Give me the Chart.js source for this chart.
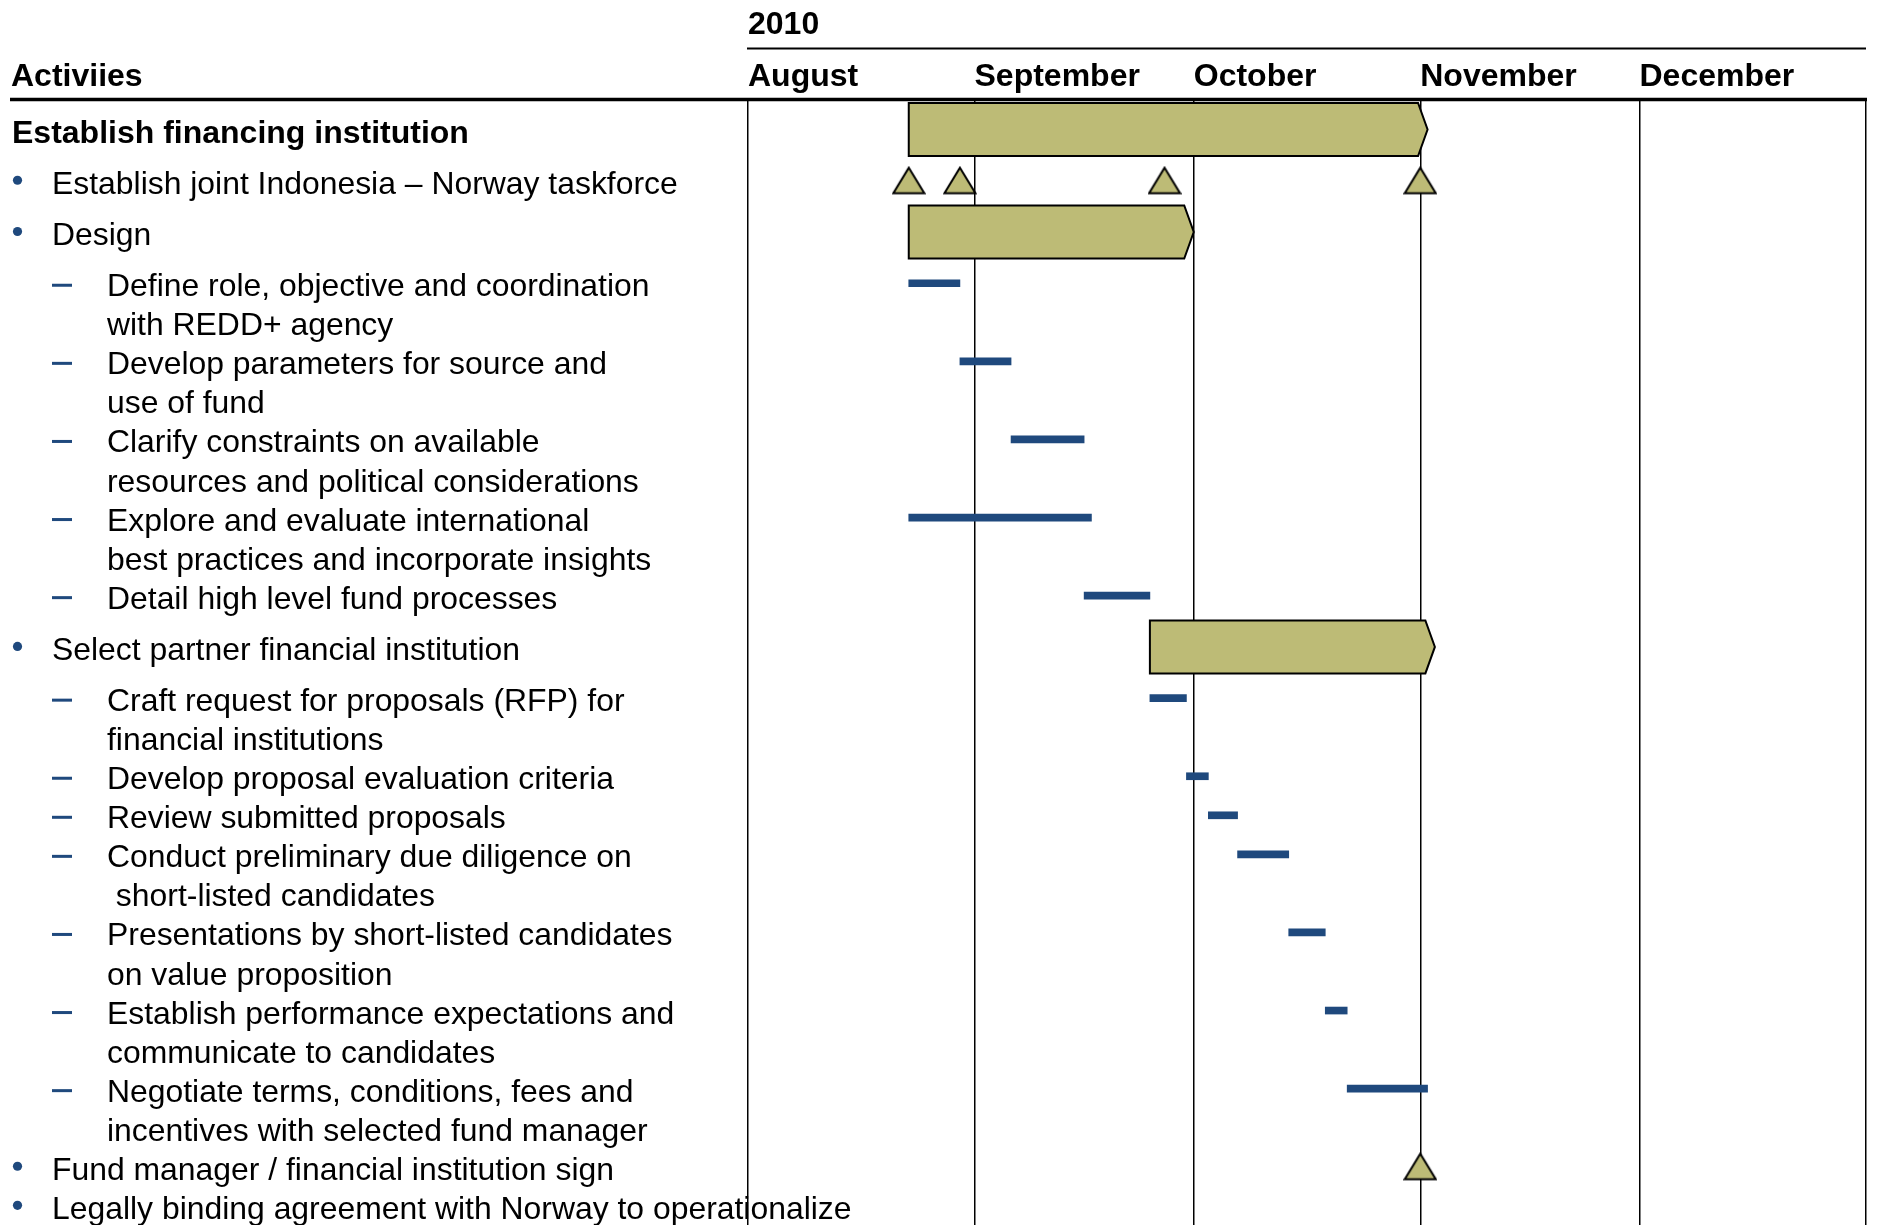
<!DOCTYPE html>
<html>
<head>
<meta charset="utf-8">
<title>Establish financing institution - 2010 plan</title>
<script src="https://cdn.jsdelivr.net/npm/chart.js@4.4.0/dist/chart.umd.min.js"></script>
<style>
  html, body { margin:0; padding:0; background:#fff; overflow:hidden; }
  #gantt { display:block; }
</style>
</head>
<body>
<canvas id="gantt" width="1877" height="1225"></canvas>
<script>
// Data (days counted from 1 August 2010)
const yearLabel = '2010';
const monthNames = ['August', 'September', 'October', 'November', 'December'];
const monthStartDay = [0, 31, 61, 92, 122, 153];

const activityLabels = [
  ['Establish financing institution'],
  ['Establish joint Indonesia \u2013 Norway taskforce'],
  ['Design'],
  ['Define role, objective and coordination', 'with REDD+ agency'],
  ['Develop parameters for source and', 'use of fund'],
  ['Clarify constraints on available', 'resources and political considerations'],
  ['Explore and evaluate international', 'best practices and incorporate insights'],
  ['Detail high level fund processes'],
  ['Select partner financial institution'],
  ['Craft request for proposals (RFP) for', 'financial institutions'],
  ['Develop proposal evaluation criteria'],
  ['Review submitted proposals'],
  ['Conduct preliminary due diligence on', ' short-listed candidates'],
  ['Presentations by short-listed candidates', 'on value proposition'],
  ['Establish performance expectations and', 'communicate to candidates'],
  ['Negotiate terms, conditions, fees and', 'incentives with selected fund manager'],
  ['Fund manager / financial institution sign'],
  ['Legally binding agreement with Norway to operationalize']
];
// 0 = heading, 1 = bullet, 2 = dash
const activityLevels = [0, 1, 1, 2, 2, 2, 2, 2, 1, 2, 2, 2, 2, 2, 2, 2, 1, 1];

// phase bars (olive chevrons)
const phaseRows  = [0, 2, 8];
const phaseStart = [22, 22, 55];
const phaseEnd   = [93, 61, 94];

// task bars (thin blue)
const taskRows  = [3, 4, 5, 6, 7, 9, 10, 11, 12, 13, 14, 15];
const taskStart = [22, 29, 36, 22, 46, 55, 60, 63, 67, 74, 79, 82];
const taskEnd   = [29, 36, 46, 47, 55, 60, 63, 67, 74, 79, 82, 93];

// milestones (triangles)
const milestoneRows = [1, 1, 1, 1, 16];
const milestoneDay  = [22, 29, 57, 92, 92];

// Layout / style
const OLIVE = '#bdbb76';
const BLUE = '#1f497d';
const FONT = "'Liberation Sans', Arial, Helvetica, sans-serif";
const REG = '31.9px ' + FONT;
const BOLD = 'bold 32px ' + FONT;
const HEADER_H = 99;
const LINE = 39.05, GAP = 12.2, FIRST_ROW = 32.5;
// paragraph "space before" for each row, like the slide it came from
const paraGap = [0, 1, 1, 1, 0, 0, 0, 0, 1, 1, 0, 0, 0, 0, 0, 0, 0, 0];

const rowPos = [];
activityLabels.forEach((lines, i) => {
  if (i === 0) { rowPos.push(FIRST_ROW); return; }
  rowPos.push(rowPos[i-1] + activityLabels[i-1].length * LINE + paraGap[i] * GAP);
});
// marks sit a touch above the middle of the first text line
const markY = r => rowPos[r] - 2;

// milestone triangle used as point style
function makeTriangle(){
  const c = document.createElement('canvas'); c.width = 34; c.height = 30;
  const g = c.getContext('2d');
  g.beginPath(); g.moveTo(17, 2); g.lineTo(32.5, 27.5); g.lineTo(1.5, 27.5); g.closePath();
  g.fillStyle = OLIVE; g.fill();
  g.lineWidth = 2; g.strokeStyle = '#000'; g.stroke();
  return c;
}

// draw the phase bars as chevrons using the bar geometry from the chart
const chevronPlugin = {
  id: 'chevron',
  afterDatasetDraw(chart, args){
    if(args.index !== 0) return;
    const ctx = chart.ctx;
    args.meta.data.forEach(bar => {
      const {x, y, base, height} = bar.getProps(['x', 'y', 'base', 'height'], true);
      const top = y - height/2, bot = y + height/2, tip = 9.5;
      ctx.save();
      ctx.beginPath();
      ctx.moveTo(base, top); ctx.lineTo(x - tip, top); ctx.lineTo(x, y);
      ctx.lineTo(x - tip, bot); ctx.lineTo(base, bot); ctx.closePath();
      ctx.fillStyle = OLIVE; ctx.fill();
      ctx.lineWidth = 2; ctx.strokeStyle = '#000'; ctx.stroke();
      ctx.restore();
    });
  }
};

// activity column + header rules
const activityPlugin = {
  id: 'activities',
  afterDraw(chart){
    const {ctx, chartArea, scales: {x, y}} = chart;
    ctx.save();
    ctx.strokeStyle = '#000';
    ctx.lineWidth = 2;
    ctx.beginPath(); ctx.moveTo(x.left - 1, 48.5); ctx.lineTo(x.right, 48.5); ctx.stroke();
    ctx.lineWidth = 3.5;
    ctx.beginPath(); ctx.moveTo(10, chartArea.top + 0.5); ctx.lineTo(x.right + 1, chartArea.top + 0.5); ctx.stroke();

    ctx.textBaseline = 'alphabetic';
    ctx.textAlign = 'left';
    ctx.fillStyle = '#000';
    ctx.font = BOLD;
    ctx.fillText('Activiies', 11, 86);

    activityLabels.forEach((lines, i) => {
      const mid = y.getPixelForValue(rowPos[i]);
      const lvl = activityLevels[i];
      const tx = [12, 52, 107][lvl];
      ctx.fillStyle = '#000';
      ctx.font = lvl === 0 ? BOLD : REG;
      lines.forEach((s, k) => ctx.fillText(s, tx, mid + 11 + k * LINE));
      ctx.fillStyle = BLUE;
      if(lvl === 1){ ctx.beginPath(); ctx.arc(17.5, mid - 2.5, 4.6, 0, Math.PI * 2); ctx.fill(); }
      if(lvl === 2){ ctx.fillRect(52, mid - 1.5, 20, 3); }
    });
    ctx.restore();
  }
};

const chart = new Chart(document.getElementById('gantt').getContext('2d'), {
  type: 'bar',
  data: {
    datasets: [
      {
        label: 'Phases',
        data: phaseRows.map((r, i) => ({x: [phaseStart[i], phaseEnd[i]], y: markY(r)})),
        backgroundColor: 'rgba(0,0,0,0)', borderWidth: 0,
        barThickness: 53, grouped: false
      },
      {
        label: 'Tasks',
        data: taskRows.map((r, i) => ({x: [taskStart[i], taskEnd[i]], y: markY(r)})),
        backgroundColor: BLUE, borderWidth: 0,
        barThickness: 7, grouped: false
      },
      {
        type: 'scatter', indexAxis: 'x',
        label: 'Milestones',
        data: milestoneRows.map((r, i) => ({x: milestoneDay[i], y: markY(r)})),
        pointStyle: makeTriangle(), pointRadius: 15, pointHoverRadius: 15
      }
    ]
  },
  options: {
    indexAxis: 'y',
    responsive: false,
    animation: false,
    devicePixelRatio: 1,
    layout: { autoPadding: false, padding: { left: 748, right: 11, top: 0, bottom: 0 } },
    plugins: { legend: { display: false }, tooltip: { enabled: true } },
    scales: {
      x: {
        type: 'linear', position: 'top', min: 0, max: 153, offset: false,
        afterBuildTicks: axis => { axis.ticks = monthStartDay.map(v => ({value: v})); },
        afterFit: axis => { axis.height = HEADER_H; },
        grid: { color: '#000', lineWidth: 1.5, drawTicks: false, offset: false },
        border: { display: false },
        ticks: {
          autoSkip: false, maxRotation: 0, minRotation: 0, align: 'start', padding: 2.5,
          color: '#000', font: { family: FONT, size: 32, weight: 'bold' },
          callback: (v, i) => monthNames[i] || ''
        },
        title: {
          display: true, text: yearLabel, align: 'start', color: '#000',
          font: { family: FONT, size: 32, weight: 'bold' }, padding: { top: 5.5, bottom: 0 }
        }
      },
      y: {
        type: 'linear', reverse: true, min: 0, max: 1225 - HEADER_H, offset: false, display: false,
        grid: { offset: false }
      }
    }
  },
  plugins: [chevronPlugin, activityPlugin]
});
</script>
</body>
</html>
